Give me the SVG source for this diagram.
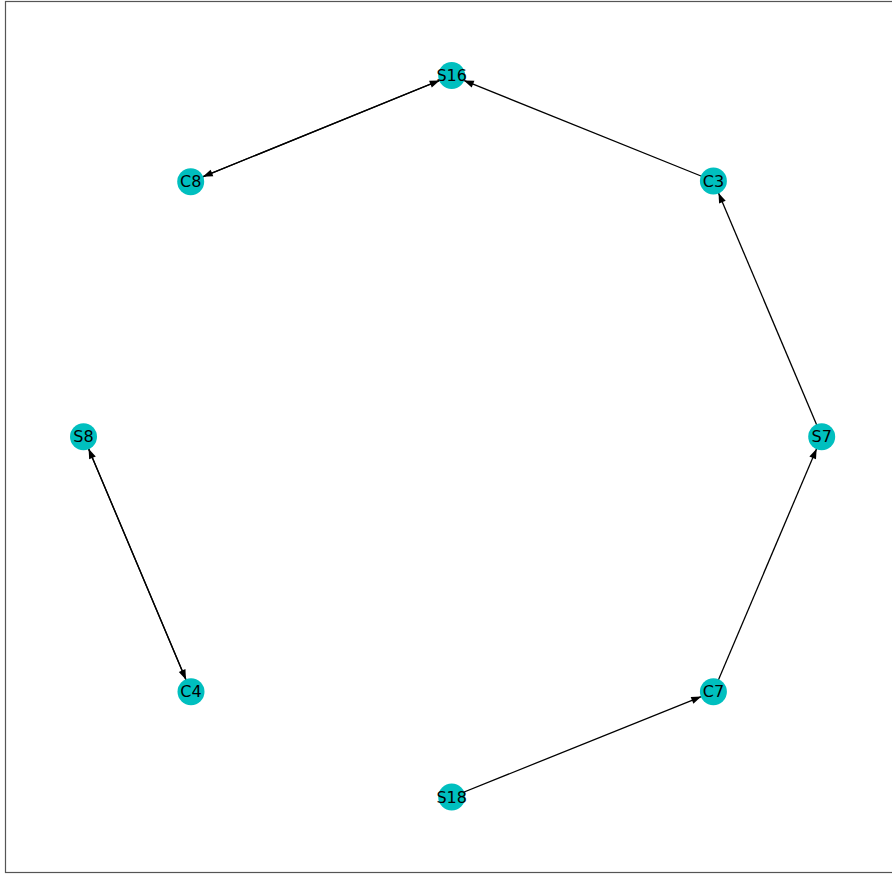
<svg xmlns="http://www.w3.org/2000/svg" width="892" height="875" viewBox="0 0 892 875">
<style>
.node circle{fill:#00bfbf;}
.node text{font-family:"DejaVu Sans",sans-serif;font-size:16px;fill:#000;text-anchor:middle;dominant-baseline:central;}
.edge{stroke:#000;stroke-width:1.3;fill:none;marker-end:url(#arr);}
</style>
<defs>
<marker id="arr" markerUnits="userSpaceOnUse" markerWidth="12" markerHeight="10" refX="11" refY="4" orient="auto" viewBox="0 0 12 8">
<path d="M1,0.4 L11,4 L1,7.6 Z" fill="#000"/>
</marker>
</defs>
<rect x="5.5" y="1.5" width="900" height="871" fill="#fff" stroke="#555" stroke-width="1.2"/>
<g id="edges">
<line class="edge" x1="190.7" y1="181.7" x2="439.7" y2="80.4"/>
<line class="edge" x1="451.7" y1="75.5" x2="202.7" y2="176.8"/>
<line class="edge" x1="713.4" y1="181" x2="463.8" y2="80.4"/>
<line class="edge" x1="821.7" y1="436.7" x2="718.5" y2="193"/>
<line class="edge" x1="713.4" y1="691.7" x2="816.6" y2="448.7"/>
<line class="edge" x1="451.7" y1="797" x2="701.3" y2="696.6"/>
<line class="edge" x1="83.5" y1="436.7" x2="186" y2="679.7"/>
<line class="edge" x1="191" y1="691.7" x2="88.6" y2="448.7"/>
</g>
<g id="S16" class="node"><circle cx="451.7" cy="75.5" r="13.5"/><text x="451.7" y="75.5">S16</text></g>
<g id="C8" class="node"><circle cx="190.7" cy="181.7" r="13.5"/><text x="190.7" y="181.7">C8</text></g>
<g id="C3" class="node"><circle cx="713.4" cy="181" r="13.5"/><text x="713.4" y="181">C3</text></g>
<g id="S8" class="node"><circle cx="83.5" cy="436.7" r="13.5"/><text x="83.5" y="436.7">S8</text></g>
<g id="S7" class="node"><circle cx="821.7" cy="436.7" r="13.5"/><text x="821.7" y="436.7">S7</text></g>
<g id="C4" class="node"><circle cx="191" cy="691.7" r="13.5"/><text x="191" y="691.7">C4</text></g>
<g id="C7" class="node"><circle cx="713.4" cy="691.7" r="13.5"/><text x="713.4" y="691.7">C7</text></g>
<g id="S18" class="node"><circle cx="451.7" cy="797" r="13.5"/><text x="451.7" y="797">S18</text></g>
</svg>
